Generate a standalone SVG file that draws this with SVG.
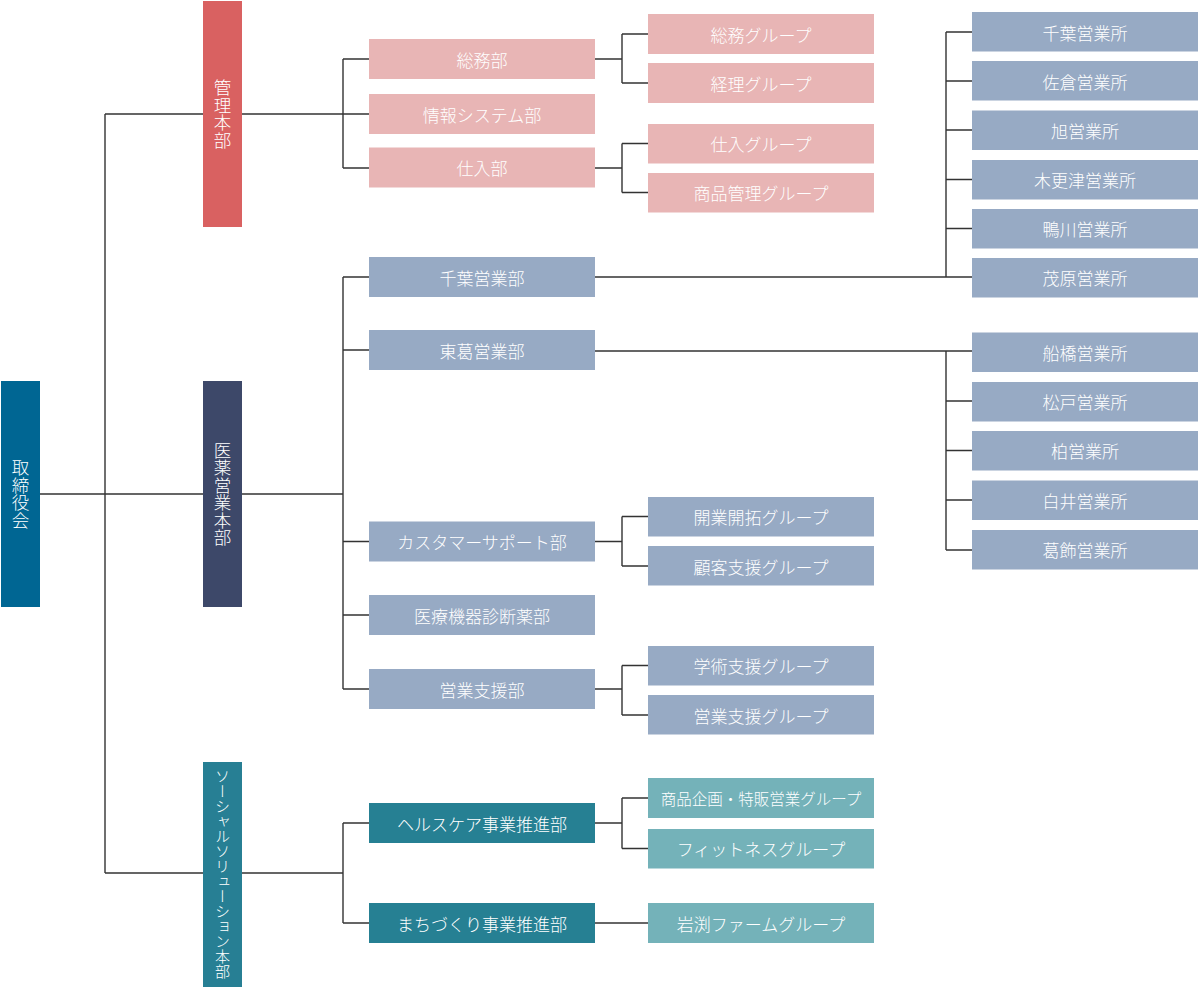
<svg xmlns="http://www.w3.org/2000/svg" width="1200" height="987" viewBox="0 0 1200 987">
<style>
text{font-family:"Noto Sans CJK JP","Noto Sans",sans-serif;fill:#ffffff;text-anchor:middle;dominant-baseline:central;font-size:17px;font-weight:300}
.v{writing-mode:vertical-rl;font-size:17.5px}
.vs{writing-mode:vertical-rl;font-size:15px}
.red{fill:#D96161}
.pink{fill:#E8B5B5}
.bg{fill:#97AAC4}
.navy{fill:#3D4869}
.board{fill:#006693}
.soc{fill:#277F94}
.teal{fill:#268093}
.lteal{fill:#74B2B9}
#connectors{stroke:#333333;stroke-width:1.4;fill:none}
</style>
<g id="connectors">
<path d="M40,494H203M105,114V873M105,114H203M105,873H203"/>
<path d="M242,114H369M343,59V168M343,59H369M343,168H369"/>
<path d="M595,59H622M622,34V83M622,34H648M622,83H648"/>
<path d="M595,168H622M622,143.5V192.5M622,143.5H648M622,192.5H648"/>
<path d="M242,494H343M343,277V689M343,277H369M343,350H369M343,541.5H369M343,615H369M343,689H369"/>
<path d="M595,277H972M946,32V277M946,32H972M946,81H972M946,130H972M946,179.5H972M946,228.5H972"/>
<path d="M595,351H972M946,351V550M946,401H972M946,450.5H972M946,500H972M946,550H972"/>
<path d="M595,541.5H622M622,516.5V566M622,516.5H648M622,566H648"/>
<path d="M595,689H622M622,665.5V715M622,665.5H648M622,715H648"/>
<path d="M242,873H343M343,823V923M343,823H369M343,923H369"/>
<path d="M595,823H622M622,798V848.5M622,798H648M622,848.5H648"/>
<path d="M595,923H648"/>
</g>
<g id="board"><rect class="board" x="1" y="381" width="39" height="226"/><text class="v" x="20.5" y="494">取締役会</text></g>
<g id="kanri"><rect class="red" x="203" y="1" width="39" height="226"/><text class="v" x="222.5" y="114">管理本部</text></g>
<g id="iyaku"><rect class="navy" x="203" y="381" width="39" height="226"/><text class="v" x="222.5" y="494">医薬営業本部</text></g>
<g id="social"><rect class="soc" x="203" y="762" width="39" height="225"/><text class="vs" x="222.5" y="874">ソーシャルソリューション本部</text></g>

<g id="somu"><rect class="pink" x="369" y="39" width="226" height="40"/><text x="482" y="59">総務部</text></g>
<g id="joho"><rect class="pink" x="369" y="94" width="226" height="40"/><text x="482" y="114">情報システム部</text></g>
<g id="shiire"><rect class="pink" x="369" y="147.5" width="226" height="40"/><text x="482" y="167.5">仕入部</text></g>
<g id="somu-g"><rect class="pink" x="648" y="14" width="226" height="40"/><text x="761" y="34">総務グループ</text></g>
<g id="keiri-g"><rect class="pink" x="648" y="63" width="226" height="40"/><text x="761" y="83">経理グループ</text></g>
<g id="shiire-g"><rect class="pink" x="648" y="124" width="226" height="39.5"/><text x="761" y="143.5">仕入グループ</text></g>
<g id="shohin-g"><rect class="pink" x="648" y="173" width="226" height="39.5"/><text x="761" y="192.5">商品管理グループ</text></g>

<g id="chiba-bu"><rect class="bg" x="369" y="257" width="226" height="40"/><text x="482" y="277">千葉営業部</text></g>
<g id="tokatsu-bu"><rect class="bg" x="369" y="330" width="226" height="40"/><text x="482" y="350">東葛営業部</text></g>
<g id="cs-bu"><rect class="bg" x="369" y="521.5" width="226" height="40"/><text x="482" y="541.5">カスタマーサポート部</text></g>
<g id="iryo-bu"><rect class="bg" x="369" y="595" width="226" height="40"/><text x="482" y="615">医療機器診断薬部</text></g>
<g id="eigyoshien-bu"><rect class="bg" x="369" y="669" width="226" height="40"/><text x="482" y="689">営業支援部</text></g>
<g id="kaigyo-g"><rect class="bg" x="648" y="497" width="226" height="39.5"/><text x="761" y="516.5">開業開拓グループ</text></g>
<g id="kokyaku-g"><rect class="bg" x="648" y="546" width="226" height="39.5"/><text x="761" y="566">顧客支援グループ</text></g>
<g id="gakujutsu-g"><rect class="bg" x="648" y="646" width="226" height="39.5"/><text x="761" y="665.5">学術支援グループ</text></g>
<g id="eigyoshien-g"><rect class="bg" x="648" y="695" width="226" height="39.5"/><text x="761" y="715">営業支援グループ</text></g>

<g id="chiba-sho"><rect class="bg" x="972" y="12" width="226" height="39.5"/><text x="1085" y="32">千葉営業所</text></g>
<g id="sakura-sho"><rect class="bg" x="972" y="61" width="226" height="39.5"/><text x="1085" y="81">佐倉営業所</text></g>
<g id="asahi-sho"><rect class="bg" x="972" y="110.5" width="226" height="39.5"/><text x="1085" y="130">旭営業所</text></g>
<g id="kisarazu-sho"><rect class="bg" x="972" y="160" width="226" height="39.5"/><text x="1085" y="179.5">木更津営業所</text></g>
<g id="kamogawa-sho"><rect class="bg" x="972" y="209" width="226" height="39.5"/><text x="1085" y="228.5">鴨川営業所</text></g>
<g id="mobara-sho"><rect class="bg" x="972" y="258" width="226" height="39.5"/><text x="1085" y="277.5">茂原営業所</text></g>
<g id="funabashi-sho"><rect class="bg" x="972" y="332.5" width="226" height="39.5"/><text x="1085" y="352">船橋営業所</text></g>
<g id="matsudo-sho"><rect class="bg" x="972" y="382" width="226" height="39.5"/><text x="1085" y="401.5">松戸営業所</text></g>
<g id="kashiwa-sho"><rect class="bg" x="972" y="431" width="226" height="39.5"/><text x="1085" y="450.5">柏営業所</text></g>
<g id="shiroi-sho"><rect class="bg" x="972" y="480.5" width="226" height="39.5"/><text x="1085" y="500">白井営業所</text></g>
<g id="katsushika-sho"><rect class="bg" x="972" y="530" width="226" height="39.5"/><text x="1085" y="549.5">葛飾営業所</text></g>

<g id="health-bu"><rect class="teal" x="369" y="803" width="226" height="40"/><text x="482" y="823">ヘルスケア事業推進部</text></g>
<g id="machi-bu"><rect class="teal" x="369" y="903" width="226" height="40"/><text x="482" y="923">まちづくり事業推進部</text></g>
<g id="kikaku-g"><rect class="lteal" x="648" y="778" width="226" height="40"/><text x="761" y="798" style="font-size:15.5px">商品企画・特販営業グループ</text></g>
<g id="fitness-g"><rect class="lteal" x="648" y="829" width="226" height="39.5"/><text x="761" y="848.5">フィットネスグループ</text></g>
<g id="iwabuchi-g"><rect class="lteal" x="648" y="903" width="226" height="40"/><text x="761" y="923">岩渕ファームグループ</text></g>
</svg>
